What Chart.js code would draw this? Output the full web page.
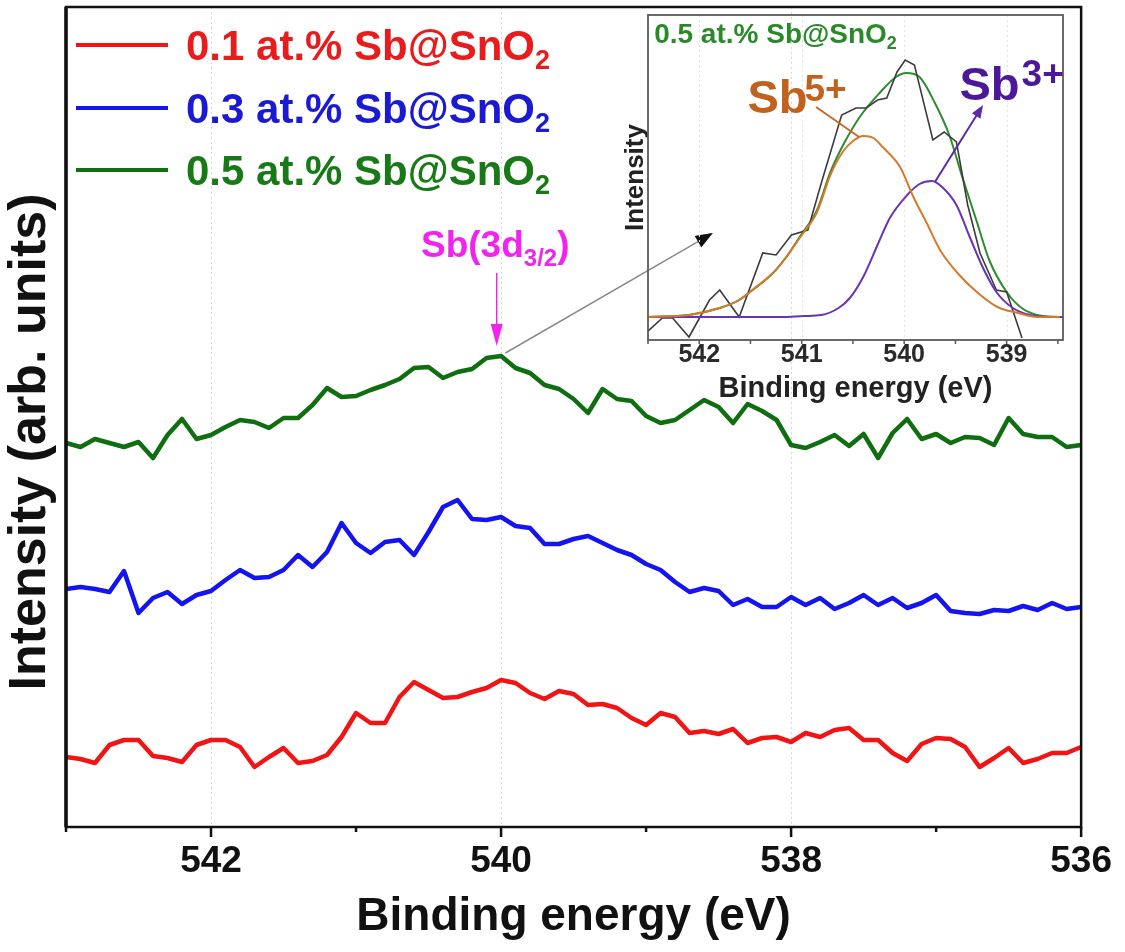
<!DOCTYPE html>
<html><head><meta charset="utf-8">
<script src="https://cdn.jsdelivr.net/npm/chart.js@4"></script>
<style>
html,body{margin:0;padding:0;background:#fff;}
#wrap{position:relative;width:1125px;height:952px;overflow:hidden;background:#fff;}
#main{position:absolute;left:0;top:0;}
#inset{position:absolute;left:600px;top:0;}
</style></head><body>
<div id="wrap"><canvas id="main" width="1125" height="952"></canvas><canvas id="inset" width="500" height="410"></canvas></div>
<script>
// ---------- main chart data ----------
const energy = [543.0,542.9,542.8,542.7,542.6,542.5,542.4,542.3,542.2,542.1,
  542.0,541.9,541.8,541.7,541.6,541.5,541.4,541.3,541.2,541.1,
  541.0,540.9,540.8,540.7,540.6,540.5,540.4,540.3,540.2,540.1,
  540.0,539.9,539.8,539.7,539.6,539.5,539.4,539.3,539.2,539.1,
  539.0,538.9,538.8,538.7,538.6,538.5,538.4,538.3,538.2,538.1,
  538.0,537.9,537.8,537.7,537.6,537.5,537.4,537.3,537.2,537.1,
  537.0,536.9,536.8,536.7,536.6,536.5,536.4,536.3,536.2,536.1,536.0];
const seriesNames = ['0.1 at.% Sb@SnO', '0.3 at.% Sb@SnO', '0.5 at.% Sb@SnO'];
const red01 = [70,68,64,82,87,87,71,69,65,82,
  87,87,80,60,70,79,64,66,72,90,
  114,104,104,130,145,137,129,130,135,139,
  147,144,134,128,136,133,122,123,119,109,
  102,114,110,94,96,93,98,84,89,90,
  85,94,90,97,99,87,87,74,66,83,
  89,88,80,60,69,79,64,68,74,74,80];
const blue03 = [238,240,238,235,256,214,229,235,223,232,
  236,247,257,249,250,257,272,260,275,304,
  284,274,285,287,272,295,320,327,308,307,
  310,301,299,283,283,288,291,284,277,272,
  263,257,245,235,239,236,222,228,220,220,
  230,222,229,218,224,232,222,229,219,224,
  232,216,214,213,217,216,221,217,224,218,220];
const green05 = [384,380,388,384,380,385,369,392,408,388,
  392,400,407,405,399,409,409,422,439,430,
  431,437,442,448,459,460,449,455,458,469,
  471,459,454,442,438,428,414,438,428,426,
  411,404,407,417,427,420,404,423,416,407,
  382,379,385,392,381,393,369,394,408,388,
  393,384,390,389,382,409,393,390,390,380,382];
const xTicks = [543,542,541,540,539,538,537,536];
const xTickLabels = [542,540,538,536];

// ---------- inset data ----------
const rawE = [542.51,542.36,542.26,542.10,541.90,541.80,541.61,541.38,541.25,541.10,540.94,540.80,540.61,540.47,540.37,540.26,540.17,540.07,539.99,539.90,539.72,539.61,539.49,539.38,539.26,539.10,539.00,538.85];
const rawI = [8,22,22,3,40,50,23,87,85,105,110,160,225,232,232,240,242,268,280,275,200,208,198,135,87,50,48,2];
const fitE = [542.51,542.10,541.80,541.61,541.48,541.28,541.15,541.02,540.85,540.72,540.58,540.42,540.24,540.08,539.98,539.85,539.70,539.56,539.43,539.29,539.17,539.00,538.84,538.65,538.48];
const fitI = [23,25,32,40,50,67,83,103,130,168,198,225,247,263,267,263,237,205,162,118,80,48,31,24,23];
const sb5E = [542.51,542.10,541.80,541.61,541.48,541.28,541.15,541.02,540.85,540.72,540.60,540.50,540.40,540.30,540.21,540.04,539.91,539.78,539.65,539.48,539.28,539.09,538.89,538.70,538.48];
const sb5I = [23,25,32,40,50,67,83,102,128,165,188,199,204,202,193,173,143,117,90,67,47,33,27,23,23];
const sb3E = [542.51,541.20,540.98,540.81,540.64,540.53,540.40,540.26,540.14,539.97,539.85,539.73,539.63,539.49,539.36,539.23,539.10,538.94,538.77,538.55,538.45];
const sb3I = [23,23,24,25,32,42,63,95,122,145,156,159,153,135,103,72,48,32,25,23,23];
const insetTicks = [542.5,542,541.5,541,540.5,540,539.5,539,538.5];
const insetTickLabels = [542,541,540,539];

const FONT = "'Liberation Sans', Arial, Helvetica, sans-serif";
const lineColors = ['#f01414', '#1414f0', '#0f6e0f'];
const textColors = ['#e81c1c', '#1a1ad2', '#177a17'];

function drawRich(ctx, x, y, parts, color) {
  ctx.save();
  ctx.fillStyle = color; ctx.textAlign = 'left'; ctx.textBaseline = 'alphabetic';
  let cx = x;
  for (const p of parts) {
    ctx.font = 'bold ' + p.size + 'px ' + FONT;
    ctx.fillText(p.t, cx, y + (p.dy || 0));
    cx += ctx.measureText(p.t).width + (p.gap || 0);
  }
  ctx.restore();
}
function arrow(ctx, x1, y1, x2, y2, color, lw, hl, hw) {
  const a = Math.atan2(y2 - y1, x2 - x1);
  ctx.save();
  ctx.strokeStyle = color; ctx.fillStyle = color; ctx.lineWidth = lw;
  ctx.beginPath(); ctx.moveTo(x1, y1);
  ctx.lineTo(x2 - Math.cos(a) * hl * 0.8, y2 - Math.sin(a) * hl * 0.8); ctx.stroke();
  if (hl > 0) {
    ctx.beginPath();
    ctx.moveTo(x2, y2);
    ctx.lineTo(x2 - Math.cos(a) * hl + Math.sin(a) * hw, y2 - Math.sin(a) * hl - Math.cos(a) * hw);
    ctx.lineTo(x2 - Math.cos(a) * hl - Math.sin(a) * hw, y2 - Math.sin(a) * hl + Math.cos(a) * hw);
    ctx.closePath(); ctx.fill();
  }
  ctx.restore();
}

const mainDecor = {
  id: 'mainDecor',
  beforeDatasetsDraw(chart) {
    const {ctx, chartArea: ca, scales: {x}} = chart;
    ctx.save();
    ctx.strokeStyle = '#d8d8d8'; ctx.lineWidth = 1; ctx.setLineDash([2, 3]);
    for (const v of xTickLabels) {
      const px = Math.round(x.getPixelForValue(v)) + 0.5;
      if (px > ca.left + 3 && px < ca.right - 3) {
        ctx.beginPath(); ctx.moveTo(px, ca.top); ctx.lineTo(px, ca.bottom); ctx.stroke();
      }
    }
    ctx.restore();
  },
  afterDraw(chart) {
    const {ctx, chartArea: ca, scales: {x, y}} = chart;
    ctx.save();
    ctx.strokeStyle = '#111'; ctx.lineWidth = 2.5;
    ctx.strokeRect(ca.left, ca.top, ca.right - ca.left, ca.bottom - ca.top);
    ctx.lineWidth = 3.5;
    ctx.beginPath(); ctx.moveTo(ca.left, ca.top); ctx.lineTo(ca.left, ca.bottom); ctx.stroke();
    ctx.lineWidth = 2.5;
    for (const v of xTicks) {
      const px = x.getPixelForValue(v);
      const len = xTickLabels.includes(v) ? 10 : 5;
      ctx.beginPath(); ctx.moveTo(px, ca.bottom); ctx.lineTo(px, ca.bottom + len); ctx.stroke();
    }
    ctx.fillStyle = '#111';
    ctx.translate(31, 442); ctx.rotate(-Math.PI / 2);
    ctx.font = 'bold 52px ' + FONT; ctx.textAlign = 'center'; ctx.textBaseline = 'middle';
    ctx.fillText('Intensity (arb. units)', 0, 0);
    ctx.restore();
    const legY = [45, 108, 170];
    chart.data.datasets.forEach((ds, k) => {
      ctx.save();
      ctx.strokeStyle = ds.borderColor; ctx.lineWidth = 4;
      ctx.beginPath(); ctx.moveTo(76, legY[k]); ctx.lineTo(168, legY[k]); ctx.stroke();
      ctx.restore();
      drawRich(ctx, 186, legY[k] + 15, [{t: ds.label, size: 42}, {t: '2', size: 27, dy: 9}], textColors[k]);
    });
    drawRich(ctx, 421, 257, [{t: 'Sb(3d', size: 37}, {t: '3/2', size: 24, dy: 9}, {t: ')', size: 37}], '#f024ee');
    const ax = x.getPixelForValue(540.03);
    arrow(ctx, ax, y.getPixelForValue(554), ax, y.getPixelForValue(481), '#f024ee', 1.5, 22, 6);
    arrow(ctx, x.getPixelForValue(539.97), y.getPixelForValue(474), x.getPixelForValue(538.54), y.getPixelForValue(594), '#8a8a8a', 1.5, 17, 6.5);
    const hx = x.getPixelForValue(538.54), hy = y.getPixelForValue(594);
    const sx = x.getPixelForValue(539.97), sy = y.getPixelForValue(474);
    const a = Math.atan2(hy - sy, hx - sx);
    ctx.save(); ctx.fillStyle = '#111'; ctx.beginPath();
    ctx.moveTo(hx, hy);
    ctx.lineTo(hx - Math.cos(a) * 17 + Math.sin(a) * 6.5, hy - Math.sin(a) * 17 - Math.cos(a) * 6.5);
    ctx.lineTo(hx - Math.cos(a) * 17 - Math.sin(a) * 6.5, hy - Math.sin(a) * 17 + Math.cos(a) * 6.5);
    ctx.closePath(); ctx.fill(); ctx.restore();
  }
};

const seriesValues = [red01, blue03, green05];
new Chart(document.getElementById('main'), {
  type: 'line',
  data: {
    datasets: seriesNames.map((name, k) => ({
      label: name,
      data: energy.map((e, i) => ({x: e, y: seriesValues[k][i]})),
      borderColor: lineColors[k], borderWidth: 4.5, pointRadius: 0, tension: 0, fill: false,
      borderJoinStyle: 'round', borderCapStyle: 'round'
    }))
  },
  options: {
    responsive: false, animation: false, devicePixelRatio: 1,
    layout: {padding: {top: 7, right: 43, left: 0, bottom: 0}},
    plugins: {legend: {display: false}, tooltip: {enabled: false}},
    scales: {
      x: {
        type: 'linear', reverse: true, min: 536, max: 543,
        afterFit: s => { s.height = 125; },
        afterBuildTicks: s => { s.ticks = xTicks.map(v => ({value: v})); },
        ticks: {
          autoSkip: false, maxRotation: 0, padding: 13, color: '#111',
          font: {family: FONT, size: 37, weight: 'bold'},
          callback: v => xTickLabels.includes(v) ? String(v) : ''
        },
        grid: {display: false, drawTicks: false},
        border: {display: false},
        title: {display: true, text: 'Binding energy (eV)', color: '#111',
          font: {family: FONT, size: 46, weight: 'bold', lineHeight: 1}, padding: {top: 0, bottom: 12}}
      },
      y: {
        min: 0, max: 820,
        afterFit: s => { s.width = 66; },
        ticks: {display: false},
        grid: {display: false, drawTicks: false},
        border: {display: false}
      }
    }
  },
  plugins: [mainDecor]
});

const insetDecor = {
  id: 'insetDecor',
  beforeDatasetsDraw(chart) {
    const {ctx, chartArea: ca, scales: {x}} = chart;
    ctx.save();
    ctx.strokeStyle = '#e2e2e2'; ctx.lineWidth = 1; ctx.setLineDash([2, 3]);
    for (const v of insetTickLabels) {
      const px = Math.round(x.getPixelForValue(v)) + 0.5;
      ctx.beginPath(); ctx.moveTo(px, ca.top); ctx.lineTo(px, ca.bottom); ctx.stroke();
    }
    ctx.restore();
  },
  afterDraw(chart) {
    const {ctx, chartArea: ca, scales: {x, y}} = chart;
    ctx.save();
    ctx.strokeStyle = '#5a5a5a'; ctx.lineWidth = 1.8;
    ctx.strokeRect(ca.left, ca.top, ca.right - ca.left, ca.bottom - ca.top);
    ctx.lineWidth = 1.5;
    for (const v of insetTicks) {
      const px = x.getPixelForValue(v);
      ctx.beginPath(); ctx.moveTo(px, ca.bottom); ctx.lineTo(px, ca.bottom + 4); ctx.stroke();
    }
    ctx.restore();
    drawRich(ctx, x.getPixelForValue(542.44), y.getPixelForValue(297),
      [{t: '0.5 at.% Sb@SnO', size: 28}, {t: '2', size: 18, dy: 6}], '#2a8a2a');
    ctx.save(); ctx.strokeStyle = '#c8682a'; ctx.lineWidth = 2;
    ctx.beginPath(); ctx.moveTo(x.getPixelForValue(540.86), y.getPixelForValue(233));
    ctx.lineTo(x.getPixelForValue(540.44), y.getPixelForValue(203)); ctx.stroke(); ctx.restore();
    drawRich(ctx, x.getPixelForValue(541.53), y.getPixelForValue(227),
      [{t: 'Sb', size: 47, gap: -3}, {t: '5+', size: 37, dy: -12}], '#c0621e');
    arrow(ctx, x.getPixelForValue(539.70), y.getPixelForValue(158), x.getPixelForValue(539.23), y.getPixelForValue(235), '#5a2aa8', 2, 13, 5);
    drawRich(ctx, x.getPixelForValue(539.46), y.getPixelForValue(240),
      [{t: 'Sb', size: 47, gap: 2}, {t: '3+', size: 37, dy: -14}], '#4a1898');
  }
};

new Chart(document.getElementById('inset'), {
  type: 'line',
  data: {
    datasets: [
      {label: 'Sb5+', data: sb5E.map((e, i) => ({x: e, y: sb5I[i]})), borderColor: '#d47a2c', borderWidth: 2, pointRadius: 0, cubicInterpolationMode: 'monotone'},
      {label: 'Sb3+', data: sb3E.map((e, i) => ({x: e, y: sb3I[i]})), borderColor: '#6634b4', borderWidth: 2, pointRadius: 0, cubicInterpolationMode: 'monotone'},
      {label: 'Raw', data: rawE.map((e, i) => ({x: e, y: rawI[i]})), borderColor: '#3c3c3c', borderWidth: 1.6, pointRadius: 0, tension: 0},
      {label: 'Fit', data: fitE.map((e, i) => ({x: e, y: fitI[i]})), borderColor: '#2e8c2e', borderWidth: 2, pointRadius: 0, cubicInterpolationMode: 'monotone'}
    ]
  },
  options: {
    responsive: false, animation: false, devicePixelRatio: 1,
    layout: {padding: {top: 15, right: 37, left: 0, bottom: 0}},
    plugins: {legend: {display: false}, tooltip: {enabled: false}},
    scales: {
      x: {
        type: 'linear', reverse: true, min: 538.45, max: 542.5,
        afterFit: s => { s.height = 70; },
        afterBuildTicks: s => { s.ticks = insetTicks.map(v => ({value: v})); },
        ticks: {
          autoSkip: false, maxRotation: 0, padding: 3, color: '#2a2a2a',
          font: {family: FONT, size: 25, weight: 'bold', lineHeight: 1},
          callback: v => insetTickLabels.includes(v) ? String(v) : ''
        },
        grid: {display: false, drawTicks: false},
        border: {display: false},
        title: {display: true, text: 'Binding energy (eV)', color: '#222',
          font: {family: FONT, size: 29, weight: 'bold', lineHeight: 1}, padding: {top: 0, bottom: 6.5}}
      },
      y: {
        min: 0, max: 325,
        afterFit: s => { s.width = 48; },
        ticks: {display: false},
        grid: {display: false, drawTicks: false},
        border: {display: false},
        title: {display: true, text: 'Intensity', color: '#222',
          font: {family: FONT, size: 26, weight: 'bold', lineHeight: 1}, padding: {top: 23, bottom: 0}}
      }
    }
  },
  plugins: [insetDecor]
});
</script>
</body></html>
